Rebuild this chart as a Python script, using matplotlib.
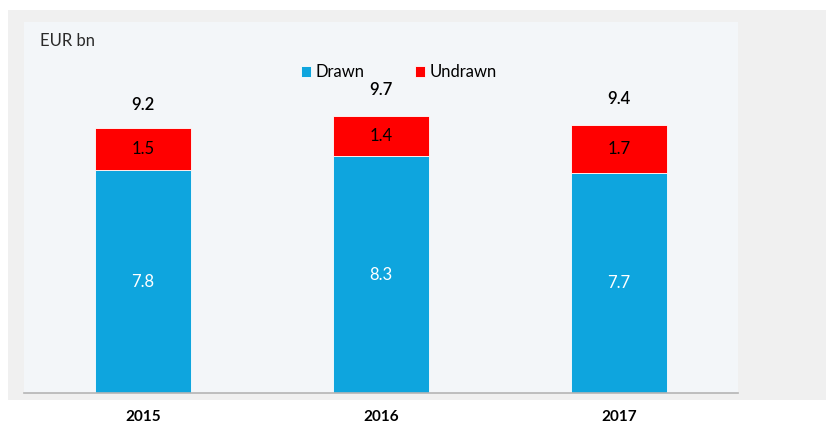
import numpy as np
import matplotlib.pyplot as plt
from matplotlib.patches import Rectangle

# Data
years = ["2015", "2016", "2017"]
drawn = [7.8, 8.3, 7.7]
undrawn = [1.5, 1.4, 1.7]
totals = [9.2, 9.7, 9.4]

BLUE = "#0ea5de"
RED = "#ff0000"

plt.rcParams['font.family'] = ['Lato', 'DejaVu Sans']

fig = plt.figure(figsize=(8.26, 4.26), dpi=100)
fig.patch.set_facecolor("white")

# grey outer frame behind the chart
fig.patches.append(Rectangle((8 / 826, 26 / 426), 818 / 826, 390 / 426,
                             transform=fig.transFigure, facecolor="#f0f0f0",
                             edgecolor="none", zorder=-10))

ax = fig.add_axes([24 / 826, 33 / 426, 714 / 826, 371 / 426])
ax.set_facecolor("#f3f6f9")

x = np.arange(len(years))
width = 0.4
ax.bar(x, drawn, width, color=BLUE, label="Drawn", edgecolor="white", linewidth=0.6)
ax.bar(x, undrawn, width, bottom=drawn, color=RED, label="Undrawn",
       edgecolor="white", linewidth=0.6)

for i in range(len(years)):
    ax.text(x[i], drawn[i] / 2, f"{drawn[i]:.1f}", ha="center", va="center",
            color="white", fontsize=12)
    ax.text(x[i], drawn[i] + undrawn[i] / 2, f"{undrawn[i]:.1f}", ha="center",
            va="center", color="black", fontsize=12)
    ax.text(x[i], totals[i] + 0.9, f"{totals[i]:.1f}", ha="center", va="center",
            color="black", fontsize=12, fontweight="semibold")

ax.set_xlim(-0.5, 2.5)
ax.set_ylim(0, 13)
ax.set_yticks([])
ax.set_xticks(x)
ax.set_xticklabels(years, fontsize=11, fontweight="bold")
ax.tick_params(axis="x", length=0, pad=12)
for s in ["top", "right", "left"]:
    ax.spines[s].set_visible(False)
ax.spines["bottom"].set_color("#b5b5b5")
ax.spines["bottom"].set_linewidth(1.2)

ax.text(0.022, 0.95, "EUR bn", transform=ax.transAxes, fontsize=12,
        color="#2a2a2a", va="center")

ax.legend(loc="center", bbox_to_anchor=(0.525, 0.865), ncol=2, frameon=False,
          fontsize=12, handlelength=0.6, handleheight=0.6, handletextpad=0.3,
          columnspacing=3.0)

fig.savefig("out.png", dpi=100)
